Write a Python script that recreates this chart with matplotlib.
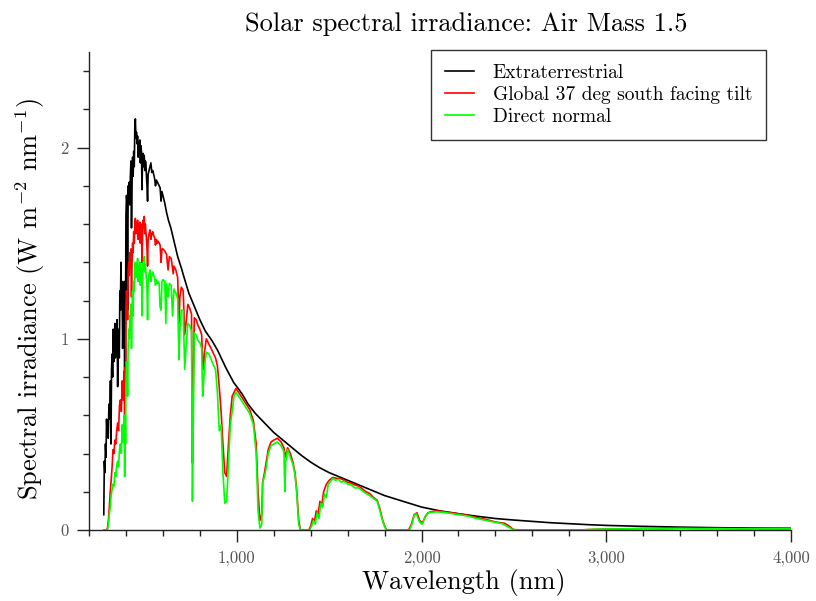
import matplotlib
matplotlib.use("Agg")
import matplotlib.pyplot as plt
from matplotlib.ticker import MultipleLocator, FuncFormatter

plt.rcParams['font.family'] = ['cmr10', 'DejaVu Serif']
plt.rcParams['mathtext.fontset'] = 'cm'
plt.rcParams['axes.formatter.use_mathtext'] = True

# ---- Extraterrestrial ----
wl_etr = [280, 283, 286, 289, 292, 295, 298, 301, 304, 307, 310, 313, 316, 319, 322, 325, 328, 331, 334, 337,
          340, 343, 346, 349, 352, 355, 358, 361, 364, 367, 370, 373, 376, 379, 382, 385, 388, 391, 393, 395,
          397, 400, 403, 406, 409, 412, 415, 418, 421, 424, 427, 430, 433, 436, 439, 442, 445, 448, 451, 454,
          457, 460, 463, 466, 469, 472, 475, 478, 481, 484, 487, 490, 493, 496, 499, 502, 505, 508, 511, 514,
          517, 520, 525, 530, 535, 540, 545, 550, 555, 560, 565, 570, 575, 580, 585, 590, 595, 600, 610, 620,
          630, 643, 660, 680, 700, 715, 740, 770, 800, 830, 866, 896, 940, 984, 1000,
          1030, 1060, 1100, 1150, 1200, 1250, 1300, 1350, 1400, 1450, 1500, 1550,
          1600, 1650, 1700, 1750, 1800, 1850, 1900, 1950, 2000, 2100, 2200, 2300, 2400, 2500, 2600, 2700, 2800,
          2900, 3000, 3200, 3400, 3600, 3800, 4000]
etr = [0.08, 0.36, 0.30, 0.45, 0.38, 0.58, 0.50, 0.57, 0.48, 0.62, 0.66, 0.58, 0.78, 0.45, 0.84, 0.92, 0.80, 1.05, 0.88, 0.95,
       1.08, 0.90, 1.02, 0.92, 1.10, 0.75, 0.98, 1.05, 0.90, 1.25, 1.15, 1.40, 1.20, 1.30, 0.95, 1.10, 1.00, 1.30, 0.75, 1.20,
       0.85, 1.65, 1.75, 1.70, 1.15, 1.80, 1.75, 1.82, 1.70, 1.85, 1.93, 1.58, 1.80, 1.95, 1.85, 1.98, 1.90, 2.10, 2.15, 2.05,
       2.08, 2.02, 2.06, 1.95, 2.03, 2.00, 2.04, 1.92, 2.01, 1.98, 1.78, 1.95, 1.97, 1.90, 1.96, 1.88, 1.93, 1.92, 1.85, 1.80,
       1.72, 1.86, 1.88, 1.90, 1.92, 1.87, 1.88, 1.86, 1.84, 1.80, 1.83, 1.82, 1.81, 1.80, 1.79, 1.72, 1.77, 1.75, 1.71, 1.66,
       1.62, 1.58, 1.51, 1.43, 1.37, 1.32, 1.24, 1.17, 1.10, 1.04, 0.99, 0.94, 0.85, 0.77, 0.75,
       0.71, 0.66, 0.61, 0.56, 0.51, 0.47, 0.43, 0.39, 0.355, 0.325, 0.30, 0.28,
       0.26, 0.24, 0.22, 0.20, 0.18, 0.165, 0.15, 0.135, 0.12, 0.10, 0.085, 0.072, 0.06, 0.052, 0.045, 0.038, 0.033,
       0.028, 0.024, 0.019, 0.015, 0.012, 0.010, 0.009]

# ---- Global 37 deg south facing tilt ----
wl_glob = [280, 295, 300, 305, 310, 315, 320, 325, 330, 335, 340, 345, 350, 355, 360, 365, 370, 375, 380, 385,
           390, 393, 396, 398, 400, 403, 406, 409, 412, 415, 418, 421, 424, 427, 430, 433, 436, 439, 442, 445,
           448, 451, 454, 457, 460, 463, 466, 469, 472, 475, 478, 481, 484, 487, 490, 493, 496, 499, 502, 505,
           508, 511, 514, 517, 520, 525, 530, 535, 540, 545, 550, 555, 560, 565, 570, 575, 580, 585, 590, 595,
           600, 610, 620, 628, 635, 645, 656, 660, 670, 680, 687, 692, 700, 710, 718, 725, 735, 745, 755, 760,
           765, 770, 780, 790, 800, 810, 815, 820, 825, 835, 850, 866, 875, 885, 895, 905, 915, 925, 935, 945,
           955, 965, 975, 985, 995, 1010, 1030, 1050, 1070, 1090, 1105, 1115, 1125, 1135, 1140, 1150, 1160, 1170,
           1185, 1200, 1220, 1240, 1255, 1265, 1275, 1290, 1305, 1315, 1325, 1335, 1345, 1390, 1400, 1410, 1420,
           1430, 1440, 1450, 1460, 1470, 1485, 1500, 1520, 1540, 1560, 1580, 1600, 1620, 1640, 1660, 1680, 1700,
           1720, 1740, 1760, 1775, 1790, 1805, 1815, 1930, 1945, 1960, 1975, 1990, 2005, 2020, 2035, 2050, 2080,
           2100, 2150, 2200, 2250, 2300, 2350, 2400, 2450, 2475, 2490, 2500, 2550, 2850, 2900, 3000, 3100, 3200,
           3300, 3400, 3500, 3600, 3700, 3800, 3900, 4000]
glob = [0.0, 0.0, 0.01, 0.05, 0.12, 0.20, 0.26, 0.33, 0.42, 0.40, 0.47, 0.45, 0.52, 0.56, 0.52, 0.65, 0.68, 0.62, 0.78, 0.68,
        0.83, 0.55, 0.85, 0.75, 1.15, 1.25, 1.20, 1.10, 1.35, 1.40, 1.33, 1.45, 1.38, 1.47, 1.22, 1.40, 1.50, 1.45, 1.56, 1.50,
        1.60, 1.63, 1.55, 1.60, 1.58, 1.62, 1.52, 1.60, 1.57, 1.61, 1.50, 1.60, 1.57, 1.40, 1.55, 1.62, 1.58, 1.64, 1.55, 1.60,
        1.56, 1.52, 1.47, 1.38, 1.52, 1.55, 1.57, 1.52, 1.55, 1.56, 1.54, 1.53, 1.49, 1.52, 1.50, 1.51, 1.50, 1.49, 1.40, 1.47,
        1.47, 1.46, 1.44, 1.36, 1.43, 1.42, 1.34, 1.38, 1.36, 1.32, 1.08, 1.22, 1.27, 1.25, 1.02, 1.08, 1.18, 1.16, 1.13, 0.35,
        0.78, 1.11, 1.10, 1.07, 1.05, 1.02, 0.88, 0.84, 0.93, 1.00, 0.97, 0.94, 0.92, 0.90, 0.86, 0.75, 0.62, 0.45, 0.30, 0.28,
        0.45, 0.60, 0.70, 0.72, 0.74, 0.72, 0.69, 0.66, 0.63, 0.57, 0.45, 0.20, 0.05, 0.08, 0.25, 0.30, 0.36, 0.42,
        0.46, 0.47, 0.48, 0.46, 0.43, 0.38, 0.43, 0.40, 0.35, 0.30, 0.20, 0.05, 0.0, 0.0, 0.02, 0.06, 0.04,
        0.10, 0.08, 0.15, 0.13, 0.20, 0.24, 0.26, 0.275, 0.27, 0.27, 0.26, 0.25, 0.245, 0.235, 0.23, 0.215, 0.20,
        0.19, 0.17, 0.155, 0.11, 0.05, 0.01, 0.0, 0.0, 0.03, 0.08, 0.09, 0.05, 0.035, 0.07, 0.09, 0.095, 0.10,
        0.098, 0.092, 0.085, 0.077, 0.065, 0.055, 0.042, 0.035, 0.02, 0.008, 0.002, 0.0, 0.0, 0.002, 0.005, 0.006, 0.008,
        0.007, 0.009, 0.008, 0.008, 0.007, 0.007, 0.007, 0.007]

# ---- Direct normal ----
wl_dir = [280, 295, 300, 305, 310, 315, 320, 325, 330, 335, 340, 345, 350, 355, 360, 365, 370, 375, 380, 385,
          390, 393, 396, 398, 400, 403, 406, 409, 412, 415, 418, 421, 424, 427, 430, 433, 436, 439, 442, 445,
          448, 451, 454, 457, 460, 463, 466, 469, 472, 475, 478, 481, 484, 487, 490, 493, 496, 499, 502, 505,
          508, 511, 514, 517, 520, 525, 530, 535, 540, 545, 550, 555, 560, 565, 570, 575, 580, 584, 590, 595,
          600, 610, 616, 620, 628, 635, 645, 652, 660, 670, 680, 687, 692, 700, 710, 718, 725, 735, 745, 755,
          760, 765, 770, 780, 790, 800, 810, 815, 820, 825, 835, 850, 866, 875, 885, 895, 905, 915, 925, 935,
          945, 955, 965, 975, 985, 995, 1010, 1030, 1050, 1070, 1090, 1105, 1115, 1125, 1135, 1140, 1150, 1160,
          1170, 1185, 1200, 1220, 1240, 1255, 1260, 1265, 1275, 1290, 1305, 1315, 1325, 1335, 1345, 1395, 1405,
          1415, 1425, 1435, 1445, 1455, 1465, 1475, 1485, 1495, 1505, 1520, 1535, 1550, 1565, 1580, 1600, 1620,
          1640, 1660, 1680, 1700, 1720, 1740, 1760, 1775, 1790, 1805, 1815, 1935, 1948, 1960, 1972, 1988, 2003,
          2018, 2033, 2050, 2080, 2110, 2150, 2200, 2250, 2300, 2350, 2400, 2440, 2470, 2490, 2510, 2870, 2900,
          2950, 3000, 3100, 3200, 3300, 3400, 3500, 3600, 3700, 3800, 3900, 4000]
direct = [0.0, 0.0, 0.002, 0.03, 0.08, 0.12, 0.18, 0.21, 0.24, 0.23, 0.30, 0.28, 0.34, 0.36, 0.33, 0.42, 0.45, 0.40, 0.55, 0.46,
          0.60, 0.28, 0.60, 0.45, 0.75, 0.88, 0.85, 0.70, 0.95, 1.05, 1.00, 1.12, 1.05, 1.18, 0.95, 1.15, 1.25, 1.12, 1.30, 1.25,
          1.35, 1.40, 1.32, 1.38, 1.36, 1.42, 1.30, 1.38, 1.34, 1.40, 1.28, 1.37, 1.35, 1.12, 1.33, 1.40, 1.36, 1.43, 1.35, 1.39,
          1.35, 1.30, 1.26, 1.10, 1.30, 1.34, 1.36, 1.30, 1.33, 1.35, 1.33, 1.32, 1.28, 1.31, 1.29, 1.30, 1.29, 1.17, 1.15, 1.30,
          1.31, 1.30, 1.08, 1.29, 1.22, 1.29, 1.28, 1.12, 1.26, 1.24, 1.21, 0.89, 1.05, 1.15, 1.15, 0.84, 0.95, 1.08, 1.07, 1.04,
          0.15, 0.62, 1.03, 1.02, 0.99, 0.98, 0.95, 0.70, 0.77, 0.85, 0.93, 0.92, 0.88, 0.86, 0.84, 0.72, 0.52, 0.55, 0.30, 0.14,
          0.15, 0.35, 0.55, 0.62, 0.70, 0.72, 0.70, 0.67, 0.64, 0.61, 0.55, 0.40, 0.10, 0.01, 0.03, 0.25, 0.28, 0.33,
          0.40, 0.44, 0.45, 0.46, 0.44, 0.41, 0.20, 0.36, 0.42, 0.38, 0.34, 0.29, 0.19, 0.03, 0.0, 0.0, 0.02,
          0.05, 0.03, 0.09, 0.06, 0.14, 0.12, 0.19, 0.17, 0.24, 0.25, 0.27, 0.26, 0.265, 0.25, 0.255, 0.24, 0.235,
          0.22, 0.22, 0.205, 0.19, 0.18, 0.165, 0.15, 0.10, 0.045, 0.008, 0.0, 0.0, 0.03, 0.075, 0.085, 0.045, 0.03,
          0.065, 0.088, 0.092, 0.095, 0.093, 0.088, 0.08, 0.073, 0.06, 0.05, 0.04, 0.032, 0.015, 0.005, 0.0, 0.0, 0.002,
          0.004, 0.005, 0.006, 0.007, 0.006, 0.008, 0.007, 0.007, 0.006, 0.006, 0.006, 0.006]

labels = ["Extraterrestrial", "Global 37 deg south facing tilt", "Direct normal"]
tick_x = [1000, 2000, 3000, 4000]
tick_y = [0, 1, 2]

fig = plt.figure(figsize=(8.16, 6.01), dpi=100)
ax = fig.add_axes([89/816, 71/601, 702/816, 478/601])

ax.plot(wl_etr, etr, color='black', lw=1.2, label=labels[0])
ax.plot(wl_glob, glob, color='#ff0000', lw=1.2, label=labels[1])
ax.plot(wl_dir, direct, color='#00ff00', lw=1.2, label=labels[2])

ax.set_xlim(200, 4000)
ax.set_ylim(0, 2.5)
ax.set_xticks(tick_x)
ax.xaxis.set_minor_locator(MultipleLocator(200))
ax.set_yticks(tick_y)
ax.yaxis.set_minor_locator(MultipleLocator(0.2))
ax.xaxis.set_major_formatter(FuncFormatter(lambda v, p: f"{int(v):,}"))
ax.yaxis.set_major_formatter(FuncFormatter(lambda v, p: f"{int(v)}"))

for s in ['top', 'right']:
    ax.spines[s].set_visible(False)
for s in ['left', 'bottom']:
    ax.spines[s].set_color('#222222')
    ax.spines[s].set_linewidth(1.0)
ax.tick_params(which='major', direction='out', length=8.5, width=1.0, colors='#222222',
               labelsize=12, labelcolor='#555555', pad=6)
ax.tick_params(which='minor', direction='out', length=4.5, width=1.0, colors='#222222')

fig.text(464/816, 1 - 583/601, "Wavelength (nm)", fontsize=19, ha='center', va='center')
fig.text(30/816, 1 - 299/601, r"Spectral irradiance (W m$^{-2}$ nm$^{-1}$)", fontsize=19,
         ha='center', va='center', rotation=90)
fig.text(466/816, 1 - 24/601, "Solar spectral irradiance: Air Mass 1.5", fontsize=19,
         ha='center', va='center')

leg = ax.legend(loc='upper right', bbox_to_anchor=(766/816, 1 - 50/601),
                bbox_transform=fig.transFigure, fontsize=14, frameon=True, fancybox=False,
                edgecolor='black', handlelength=1.5, handletextpad=0.95, borderpad=0.72,
                labelspacing=0.2, borderaxespad=0)
leg.get_frame().set_linewidth(1.0)

fig.savefig("out.png", dpi=100)
